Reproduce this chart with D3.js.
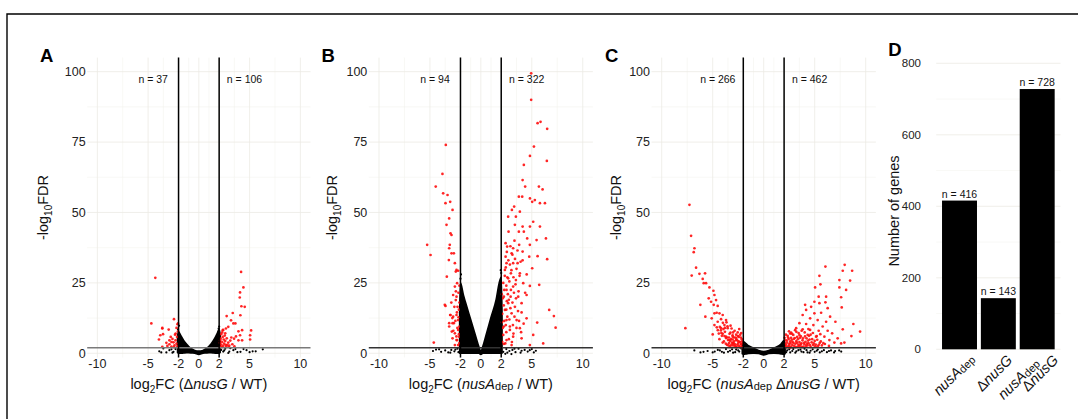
<!DOCTYPE html>
<html>
<head>
<meta charset="utf-8">
<script src="https://cdn.jsdelivr.net/npm/d3@7"></script>
<style>
  body { margin: 0; background: #fff; }
  svg { display: block; font-family: "Liberation Sans", Arial, sans-serif; }
</style>
</head>
<body>
<svg id="fig" width="1078" height="419"></svg>
<script>
// tick labels
const xTicks = [-10, -5, -2, 0, 2, 5, 10];
const xMinor = [-7.5, -3.5, -1, 1, 3.5, 7.5];
const yTicks = [0, 25, 50, 75, 100];
const yMinor = [12.5, 37.5, 62.5, 87.5];
const barTicks = [0, 200, 400, 600, 800];
const barMinor = [100, 300, 500, 700];

// gene counts per side (down, up)
const countsA = [37, 106];
const countsB = [94, 322];
const countsC = [266, 462];

// panel D
const barCategories = ["nusAdep", "dnusG", "both"];
const barValues = [416, 143, 728];

// dense non-significant core: [log2FC, low, high]
const coreA = [[-2.1,0.3,6.0],[-2.0,0,7.6],[-1.8,0,6.4],[-1.5,0.1,4.6],[-1.2,0.2,3.2],[-1.0,0.2,2.4],[-0.7,0.1,1.6],[-0.4,0,1.0],[0,-0.4,0.8],[0.4,0,1.0],[0.7,0.1,1.6],[1.0,0.2,2.5],[1.2,0.2,3.3],[1.5,0.1,4.9],[1.8,0,7.0],[2.0,0,8.6],[2.1,0.3,6.5]];
const coreB = [[-2.08,0,14],[-2.0,0,25],[-1.7,0,20.5],[-1.5,0,18],[-1.0,0,12],[-0.5,0,6],[-0.2,0,2.4],[0,-0.4,0.6],[0.2,0,2.5],[0.5,0,6.3],[1.0,0,12.8],[1.5,0,19],[1.8,0,25],[2.0,0,27],[2.08,0,14]];
const coreC = [[-2.1,-0.2,3.0],[-2.0,-0.3,4.2],[-1.7,-0.2,3.3],[-1.5,-0.1,2.7],[-1.0,0,1.8],[-0.5,-0.1,1.0],[0,-0.6,0.6],[0.5,-0.1,1.0],[1.0,0,1.8],[1.5,-0.1,2.7],[1.7,-0.2,3.3],[2.0,-0.3,4.5],[2.1,-0.2,3.0]];

// scattered non-significant genes
const blackA = [[-3.9,0.7],[-3.5,1.7],[-2.9,1.1],[-2.5,0.5],[-2.3,1.5],[-3.2,0.3],[2.4,0.6],[2.9,0.1],[3.4,1.1],[3.8,0.4],[4.1,0.5],[4.7,1.1],[5.3,0.7],[5.6,0.7],[6.3,1.4],[2.6,1.6],[3.1,1.8],[2.2,1.2],[4.4,1.5],[-2.05,8.5],[-1.95,9.8],[2.0,9.5],[1.95,8.8],[-2.6,0.2],[3.0,0.6],[-3.7,0.3],[-2.7,1.4],[2.5,1.0],[3.6,1.5],[5.0,0.4]];
const blackB = [[-4.7,0.8],[-4.4,1.3],[-3.9,0.5],[-3.5,1.0],[-3.2,0.3],[-2.9,1.2],[-2.6,0.7],[-2.3,1.6],[-2.2,0.4],[2.2,0.5],[2.5,1.5],[2.8,0.8],[3.1,1.2],[3.4,0.4],[3.7,1.6],[4.0,0.9],[4.3,1.2],[4.6,0.6],[5.0,1.5],[5.4,0.9],[3.0,-0.3],[2.4,-0.2],[-2.0,26.5],[-1.95,28],[2.0,28.5],[1.95,29.5],[-4.1,1.4],[-3.0,0.2],[-2.5,1.3],[2.6,0.2],[3.3,1.6],[3.9,0.2],[4.8,1.1],[5.2,0.3]];
const blackC = [[-5.5,0.8],[-5.0,0.3],[-4.5,1.2],[-4.1,0.5],[-3.7,1.5],[-3.3,0.9],[-3.0,0.2],[-2.7,1.3],[-2.4,0.6],[-2.2,1.7],[2.2,0.4],[2.5,1.4],[2.8,0.8],[3.1,0.2],[3.4,1.1],[3.7,0.6],[4.0,1.6],[4.3,0.3],[4.6,0.9],[5.0,0.5],[5.3,1.3],[5.7,0.7],[6.2,0.4],[6.6,1.0],[7.0,0.8],[7.6,0.6],[-6.8,1.0],[-5.9,0.5],
[-6.2,0.3],[-4.8,0.6],[-4.3,1.0],[-3.9,0.2],[-3.5,0.5],[-3.1,1.4],[-2.8,0.4],[-2.5,1.0],[2.3,1.0],[2.6,0.3],[2.9,1.5],[3.2,0.7],[3.6,1.3],[3.9,0.4],[4.2,1.1],[4.5,0.2],[4.8,1.4],[5.2,0.9],[5.5,0.3],[5.9,1.1],[6.4,0.8],[6.9,0.3],[7.4,1.0]];

// significant genes (red)
const redA = [[-4.29,26.8],[-4.68,10.6],[-2.45,12.1],[-3.6,9.0],[-2.97,8.4],[-2.1,10.3],[-2.28,7.0],[-3.53,6.8],[-3.93,4.9],[-2.77,5.8],[-2.7,4.0],[-3.2,3.7],[-3.6,2.3],[-2.05,10.6],[-3.8,6.4],[-2.9,4.6],[-3.6,8.8],
[-2.1,2.5],[-2.2,3.4],[-2.3,4.6],[-2.15,5.8],[-2.4,2.8],[-2.5,3.9],[-2.6,5.1],[-2.35,6.6],[-2.7,2.4],[-2.05,7.8],[-2.2,9.0],[-2.45,2.2],[-2.9,3.2],[-3.1,2.6],
[4.16,28.9],[4.39,23.4],[4.06,21.6],[4.03,19.8],[4.19,16.7],[4.52,16.5],[3.34,14.3],[4.09,13.5],[2.74,13.2],[3.17,11.7],[3.4,10.6],[3.6,10.6],[2.9,9.4],[2.67,8.8],[3.9,7.8],[5.15,8.1],[2.35,8.2],[4.26,8.2],[4.06,6.4],[5.05,6.4],[3.66,6.0],[3.47,5.2],[3.9,4.6],[4.26,4.6],[5.05,4.9],
[2.1,2.3],[2.2,3.1],[2.3,4.0],[2.15,5.2],[2.4,2.6],[2.5,3.4],[2.6,4.4],[2.35,5.8],[2.7,2.4],[2.8,3.0],[2.9,3.8],[3.0,2.7],[2.55,6.3],[2.2,6.8],[3.1,4.5],[3.3,3.2],[2.05,3.7],[2.25,2.2],[2.45,4.9],[2.75,5.3],[3.5,2.5],[2.65,2.9],[2.95,2.3],[3.2,5.6],[2.1,4.6],[2.3,7.4],[2.4,8.3],[2.6,7.1]];

const redB = [[-5.27,38.5],[-4.94,34.9],[-3.44,74.0],[-3.77,63.7],[-4.43,59.2],[-3.70,56.8],[-3.27,56.2],[-3.01,53.8],[-3.47,53.3],[-2.78,50.9],[-3.11,47.9],[-3.37,45.6],[-2.98,42.6],[-2.88,42.0],[-3.05,38.5],[-3.11,37.3],[-2.65,35.5],[-2.88,35.5],[-3.14,33.1],[-3.34,27.2],[-2.39,29.6],[-2.23,29.3],[-2.33,24.9],[-2.55,23.7],[-2.72,20.7],[-2.39,20.1],[-2.46,18.9],[-2.29,16.5],[-3.47,16.8],[-3.01,13.6],[-2.72,13.0],[-2.39,13.6],[-3.11,10.7],[-2.65,10.7],[-2.23,11.8],[-2.85,7.7],[-2.55,7.1],[-2.23,8.3],[-2.78,5.3],[-2.39,4.7],[-2.13,5.9],[-4.62,3.8],[-2.55,2.9],[-2.23,2.9],
[-2.55,32.0],[-2.46,29.0],[-3.54,17.2],[-2.98,13.6],[-2.78,10.7],[-3.11,9.5],[-2.33,4.7],
[-2.1,3.6],[-2.15,6.8],[-2.1,9.5],[-2.2,12.8],[-2.15,15.5],[-2.1,18.0],[-2.2,21.5],[-2.1,24.0],[-2.3,9.0],[-2.4,6.0],[-2.5,11.5],[-2.35,14.5],[-2.6,16.5],[-2.45,22.0],[-2.7,8.0],[-2.8,12.5],[-2.9,18.0],
[4.94,99.4],[4.94,90.0],[5.57,81.7],[5.86,82.2],[6.51,79.7],[5.21,73.4],[4.82,70.1],[6.48,68.3],[4.22,66.9],[4.10,61.5],[4.35,59.2],[5.70,59.2],[6.06,58.2],[3.73,55.6],[4.06,55.6],[4.82,55.0],[5.04,53.8],[5.30,54.4],[5.80,53.3],[6.29,53.3],[3.27,52.1],[3.05,50.9],[2.68,48.5],[3.44,48.5],[3.83,50.3],[3.34,45.6],[4.10,45.0],[4.82,45.0],[5.14,46.7],[5.80,45.0],[2.72,43.2],[3.73,43.2],[4.22,43.2],[4.55,40.8],[6.39,40.8],[2.43,39.1],[2.58,37.9],[3.17,37.3],[3.76,38.5],[4.81,38.5],[5.47,40.2],[2.43,34.3],[3.02,35.5],[4.10,36.1],[4.75,34.3],[5.57,34.5],[6.51,33.4],[2.52,32.0],[3.17,32.0],[3.61,32.0],[5.04,30.2],[2.36,29.6],[2.95,28.4],[3.83,28.4],[2.68,26.6],[3.44,26.0],[4.16,24.9],[3.17,23.7],[2.52,22.5],[5.73,24.3],[4.81,23.9],[2.26,20.1],[2.92,20.1],[3.67,20.1],[4.49,20.7],[2.68,17.8],[3.34,16.5],[4.00,17.8],[2.36,15.4],[3.02,14.2],[6.71,15.4],[7.17,13.2],[2.52,11.8],[3.51,11.8],[4.49,12.4],[5.53,10.9],[7.34,9.1],[2.26,9.5],[2.85,8.3],[3.83,8.9],[3.17,5.9],[2.52,4.7],[4.00,5.3],[5.14,6.5],[2.26,3.3],[3.02,2.9],[4.81,2.9],[6.12,3.5],
[2.1,4.0],[2.2,6.5],[2.15,9.0],[2.3,11.5],[2.1,14.0],[2.25,17.0],[2.15,19.5],[2.3,22.5],[2.2,25.0],[2.35,27.5],[2.4,3.5],[2.5,7.5],[2.45,10.0],[2.6,13.0],[2.5,15.5],[2.55,18.5],[2.65,21.0],[2.5,24.0],[2.6,27.0],[2.45,30.5],[2.7,33.0],[2.55,36.0],[2.75,5.0],[2.85,9.5],[2.8,12.0],[2.9,16.0],[2.75,19.0],[2.95,22.5],[2.8,25.5],[3.0,29.5],[2.85,31.5],[3.1,35.0],[2.9,38.0],[3.05,4.0],[3.2,7.0],[3.15,10.0],[3.3,13.0],[3.1,18.0],[3.25,21.5],[3.4,24.5],[3.2,27.0],[3.5,30.0],[3.35,33.5],[3.6,36.5],[3.3,40.0],[3.5,9.0],[3.65,15.0],[3.45,19.5],[3.7,22.0],[3.8,27.5],[3.9,32.5],[3.75,11.5],[4.0,14.5],[3.95,7.5],[4.2,10.5],[4.35,21.5],[4.5,28.0],[4.1,33.0],[2.05,21.0],[2.05,11.0]];

const redC = [[-7.28,52.7],[-7.12,41.7],[-6.79,37.3],[-6.86,35.9],[-6.63,30.4],[-7.06,27.6],[-6.30,28.2],[-5.75,28.4],[-5.98,26.4],[-5.65,24.9],[-5.88,24.9],[-5.32,23.4],[-4.93,22.2],[-4.83,20.7],[-5.39,19.5],[-5.16,18.3],[-4.67,18.9],[-6.21,17.2],[-4.90,17.2],[-4.51,16.8],[-4.61,14.4],[-4.34,14.2],[-4.83,14.2],[-4.02,13.6],[-5.72,13.0],[-5.10,12.4],[-4.18,12.1],[-3.69,11.8],[-4.51,11.2],[-4.83,10.0],[-3.85,10.0],[-4.18,8.9],[-3.53,8.9],[-7.68,8.9],[-3.26,7.3],[-5.00,6.7],[-4.02,6.9],[-3.69,5.9],[-3.04,5.9],[-4.34,5.0],[-3.36,4.7],[-2.71,4.7],[-2.38,4.1],[-4.02,3.8],[-3.04,3.5],[-2.22,3.3],
[-2.1,2.3],[-2.2,3.1],[-2.3,4.0],[-2.15,5.0],[-2.4,2.6],[-2.5,3.5],[-2.6,4.6],[-2.45,5.8],[-2.7,2.3],[-2.8,3.2],[-2.9,4.2],[-2.75,5.6],[-3.0,2.8],[-3.1,3.8],[-3.2,5.0],[-3.05,6.4],[-3.3,2.5],[-3.4,3.6],[-3.5,4.7],[-3.35,6.9],[-3.6,3.0],[-3.7,5.4],[-3.8,7.6],[-3.9,4.2],[-4.1,6.2],[-4.2,8.1],[-4.4,7.0],[-4.6,9.2],[-2.3,6.6],[-2.55,7.4],[-2.85,8.0],[-3.15,8.8],[-3.55,9.6],[-4.0,10.8],[-2.05,3.6],[-2.65,2.1],
[-2.12,4.2],[-2.25,5.6],[-2.35,2.2],[-2.48,4.2],[-2.58,3.0],[-2.68,5.2],[-2.82,2.6],[-2.95,3.6],[-3.05,4.9],[-3.18,2.9],[-3.28,4.4],[-3.45,2.8],[-3.58,5.6],[-3.72,3.4],[-3.85,6.1],[-3.95,8.6],[-4.15,7.2],[-4.3,9.4],[-4.5,8.2],[-2.2,7.2],[-2.4,8.6],[-2.7,6.6],[-3.0,7.4],[-3.25,9.8],[-3.65,11.0],[-2.15,2.1],[-2.52,6.1],[-2.92,5.6],[-3.4,5.6],[-3.8,9.0],
[7.94,31.4],[8.67,29.3],[6.05,30.8],[7.75,29.3],[5.46,27.5],[7.42,26.0],[8.47,25.8],[5.04,23.4],[5.56,24.5],[7.42,23.4],[8.08,22.5],[7.59,19.9],[6.12,20.1],[5.39,20.1],[4.97,18.3],[5.46,17.8],[6.05,18.1],[6.27,16.0],[4.06,17.2],[4.65,16.5],[7.65,16.3],[4.16,15.4],[4.97,14.2],[5.63,14.4],[6.51,13.0],[3.82,13.6],[4.55,12.4],[5.29,11.8],[6.12,11.2],[7.03,11.2],[3.50,10.7],[4.16,10.4],[4.87,10.0],[5.78,9.5],[8.79,10.4],[3.18,8.9],[3.82,8.5],[4.55,8.3],[5.39,8.0],[6.27,8.0],[7.75,8.5],[6.71,7.1],[9.45,7.7],[2.69,7.3],[3.50,6.5],[4.31,6.5],[5.14,5.9],[5.95,5.9],[8.60,6.1],[7.25,5.3],[6.44,4.7],[6.93,3.8],[7.59,3.5],[7.91,3.8],
[2.1,2.3],[2.2,3.0],[2.3,3.8],[2.15,4.6],[2.4,2.5],[2.5,3.3],[2.6,4.2],[2.45,5.1],[2.7,2.2],[2.8,2.9],[2.9,3.7],[2.75,4.8],[3.0,2.6],[3.1,3.4],[3.2,4.3],[3.05,5.4],[3.3,2.3],[3.4,3.1],[3.5,4.0],[3.35,5.0],[3.6,2.7],[3.7,3.5],[3.8,4.6],[3.65,6.0],[3.9,2.4],[4.0,3.2],[4.1,4.1],[4.2,5.3],[4.3,2.8],[4.4,3.6],[4.5,4.9],[4.6,2.3],[4.7,3.9],[4.85,2.9],[5.0,4.4],[5.1,3.1],[5.3,2.5],[5.5,3.7],[5.7,2.8],[6.0,3.3],[2.35,6.2],[2.6,7.0],[2.9,6.5],[3.2,7.6],[2.05,5.5],[2.25,2.1],[4.6,6.6],[5.2,6.1],[6.4,2.6],[2.55,2.0],
[2.12,3.4],[2.28,4.5],[2.38,5.6],[2.52,2.7],[2.62,3.6],[2.68,5.5],[2.82,4.1],[2.95,5.1],[3.12,2.2],[3.25,3.7],[3.28,5.8],[3.45,2.6],[3.55,5.5],[3.62,3.3],[3.75,2.2],[3.85,5.3],[3.95,3.7],[4.05,6.0],[4.15,2.6],[4.25,3.4],[4.35,4.5],[4.45,6.2],[4.55,2.9],[4.75,5.0],[4.9,3.5],[5.05,2.5],[5.25,4.8],[5.4,3.0],[5.6,4.2],[5.85,3.6],[2.18,6.6],[2.48,7.8],[2.78,6.9],[3.08,8.2],[3.42,7.2],[3.72,8.0],[4.02,7.4],[4.38,8.6],[4.82,7.2],[5.55,6.8]];

const fdrCut = 2;
const fcCut = 2;

const svg = d3.select("#fig");
svg.append("rect").attr("width", 1078).attr("height", 419).attr("fill", "#fff");

// partial frame
svg.append("path").attr("d", "M7,419 V14 H1078")
  .attr("fill", "none").attr("stroke", "#000").attr("stroke-width", 1.4);

const gridMajor = "#ecebe4", gridMinor = "#f4f3ee";
const y = d3.scaleLinear().domain([-1.5, 105]).range([357.5, 57.6]);

// x title pieces: [text, style]
const titles = {
  A: [["Δ", ""], ["nusG", "i"]],
  B: [["nusA", "i"], ["dep", "s"]],
  C: [["nusA", "i"], ["dep", "s"], [" Δ", ""], ["nusG", "i"]]
};

const panels = [
  { id: "A", x0: 87.2, x1: 310.5, red: redA, black: blackA, core: coreA, counts: countsA, yTitle: 48.3, hline: "#7a7a7a", letter: 40 },
  { id: "B", x0: 368.8, x1: 592.9, red: redB, black: blackB, core: coreB, counts: countsB, yTitle: 336.7, hline: "#333", letter: 321.5 },
  { id: "C", x0: 651.5, x1: 875.9, red: redC, black: blackC, core: coreC, counts: countsC, yTitle: 620.7, hline: "#333", letter: 605 }
];

function addRich(sel, pieces) {
  let lowered = false;
  pieces.forEach(([t, s]) => {
    const ts = sel.append("tspan").text(t);
    if (lowered) { ts.attr("dy", -1); lowered = false; }
    if (s === "i") ts.attr("font-style", "italic");
    if (s === "s") { ts.attr("font-size", "11px").attr("dy", 1); lowered = true; }
  });
  return lowered;
}

panels.forEach(p => {
  const x = d3.scaleLinear().domain([-11, 11]).range([p.x0, p.x1]);
  const g = svg.append("g");

  // grid
  g.selectAll(".vmin").data(xMinor).join("line")
    .attr("x1", d => x(d)).attr("x2", d => x(d)).attr("y1", y(105)).attr("y2", y(-1.5))
    .attr("stroke", gridMinor).attr("stroke-width", 0.6);
  g.selectAll(".hmin").data(yMinor).join("line")
    .attr("x1", p.x0).attr("x2", p.x1).attr("y1", d => y(d)).attr("y2", d => y(d))
    .attr("stroke", gridMinor).attr("stroke-width", 0.6);
  g.selectAll(".vmaj").data(xTicks).join("line")
    .attr("x1", d => x(d)).attr("x2", d => x(d)).attr("y1", y(105)).attr("y2", y(-1.5))
    .attr("stroke", gridMajor).attr("stroke-width", 0.8);
  g.selectAll(".hmaj").data(yTicks).join("line")
    .attr("x1", p.x0).attr("x2", p.x1).attr("y1", d => y(d)).attr("y2", d => y(d))
    .attr("stroke", gridMajor).attr("stroke-width", 0.8);

  // dense core of non-significant genes
  const area = d3.area().x(d => x(d[0])).y0(d => y(d[1])).y1(d => y(d[2])).curve(d3.curveMonotoneX);
  g.append("path").datum(p.core).attr("d", area)
    .attr("fill", "#000").attr("stroke", "#000").attr("stroke-width", 1.6).attr("stroke-linejoin", "round");

  g.selectAll(".bk").data(p.black).join("circle")
    .attr("cx", d => x(d[0])).attr("cy", d => y(d[1])).attr("r", 1.1).attr("fill", "#000");
  g.selectAll(".rd").data(p.red).join("circle")
    .attr("cx", d => x(d[0])).attr("cy", d => y(d[1])).attr("r", 1.35).attr("fill", "#ff0d0d").attr("opacity", 0.9);

  // threshold lines
  g.append("line").attr("x1", p.x0).attr("x2", p.x1).attr("y1", y(fdrCut)).attr("y2", y(fdrCut))
    .attr("stroke", p.hline).attr("stroke-width", 1.5);
  g.selectAll(".vl").data([-fcCut, fcCut]).join("line")
    .attr("x1", d => x(d)).attr("x2", d => x(d)).attr("y1", y(105)).attr("y2", y(-1.5))
    .attr("stroke", "#000").attr("stroke-width", 1.5);

  // n labels
  g.selectAll(".nl").data(p.counts).join("text")
    .attr("x", (d, i) => x(i ? 4.5 : -4.5)).attr("y", y(97.3) + 3.5)
    .attr("text-anchor", "middle").attr("font-size", "10.5px").attr("fill", "#111")
    .text(d => "n = " + d);

  // tick labels
  g.selectAll(".xt").data(xTicks).join("text")
    .attr("x", d => x(d)).attr("y", 367.5).attr("text-anchor", "middle")
    .attr("font-size", "12.5px").attr("fill", "#222").text(d => d);
  g.selectAll(".yt").data(yTicks).join("text")
    .attr("x", p.x0 - 1.5).attr("y", d => y(d) + 4.3).attr("text-anchor", "end")
    .attr("font-size", "12.5px").attr("fill", "#222").text(d => d);

  // x title
  const xt = g.append("text").attr("x", x(0)).attr("y", 388.5).attr("text-anchor", "middle")
    .attr("font-size", "14.5px").attr("fill", "#111");
  xt.append("tspan").text("log");
  xt.append("tspan").attr("font-size", "10px").attr("dy", 4).text("2");
  xt.append("tspan").attr("dy", -4).text("FC (");
  const low = addRich(xt, titles[p.id]);
  xt.append("tspan").attr("dy", low ? -1 : 0).text(" / WT)");

  // y title
  const yt = g.append("text").attr("transform", `translate(${p.yTitle},207.5) rotate(-90)`)
    .attr("text-anchor", "middle").attr("font-size", "14.5px").attr("fill", "#111");
  yt.append("tspan").text("-log");
  yt.append("tspan").attr("font-size", "10px").attr("dy", 4).text("10");
  yt.append("tspan").attr("dy", -4).text("FDR");

  // panel letter
  g.append("text").attr("x", p.letter).attr("y", 61.7).attr("font-size", "18.5px")
    .attr("font-weight", "bold").text(p.id);
});

// ---- panel D: bar chart
const yb = d3.scaleLinear().domain([0, 800]).range([349.3, 63.3]);
const xb = d3.scaleBand().domain(barCategories).range([936.2, 1060.5]).paddingInner(0.1).paddingOuter(0.15);
const gd = svg.append("g");

gd.selectAll(".bmin").data(barMinor).join("line")
  .attr("x1", 936.2).attr("x2", 1060.5).attr("y1", d => yb(d)).attr("y2", d => yb(d))
  .attr("stroke", gridMinor).attr("stroke-width", 0.6);
gd.selectAll(".bmaj").data(barTicks).join("line")
  .attr("x1", 936.2).attr("x2", 1060.5).attr("y1", d => yb(d)).attr("y2", d => yb(d))
  .attr("stroke", gridMajor).attr("stroke-width", 0.8);

gd.selectAll(".bar").data(barCategories).join("rect")
  .attr("x", d => xb(d)).attr("width", xb.bandwidth())
  .attr("y", (d, i) => yb(barValues[i])).attr("height", (d, i) => yb(0) - yb(barValues[i]))
  .attr("fill", "#000");

gd.selectAll(".bl").data(barCategories).join("text")
  .attr("x", d => xb(d) + xb.bandwidth() / 2).attr("y", (d, i) => yb(barValues[i]) - 3)
  .attr("text-anchor", "middle").attr("font-size", "10.5px").attr("fill", "#111")
  .text((d, i) => "n = " + barValues[i]);

gd.selectAll(".byt").data(barTicks).join("text")
  .attr("x", 921).attr("y", d => yb(d) + 4).attr("text-anchor", "end")
  .attr("font-size", "11.5px").attr("fill", "#222").text(d => d);

gd.append("text").attr("transform", "translate(899,211) rotate(-90)")
  .attr("text-anchor", "middle").attr("font-size", "14.5px").attr("fill", "#111")
  .text("Number of genes");

// rotated category labels: lines, each with its end offset [dx, dy] from the bar centre
const catLines = {
  nusAdep: [{ off: [16, 360], parts: [["nusA", "i"], ["dep", "s"]] }],
  dnusG: [{ off: [15, 361], parts: [["Δ", ""], ["nusG", "i"]] }],
  both: [{ off: [3, 364], parts: [["nusA", "i"], ["dep", "s"]] },
         { off: [22, 361], parts: [["Δ", ""], ["nusG", "i"]] }]
};
barCategories.forEach(c => {
  const cx = xb(c) + xb.bandwidth() / 2;
  catLines[c].forEach(ln => {
    const t = gd.append("text")
      .attr("transform", `translate(${cx + ln.off[0]},${ln.off[1]}) rotate(-45)`)
      .attr("text-anchor", "end").attr("font-size", "14.5px").attr("fill", "#111");
    ln.parts.forEach(([tx, s]) => {
      const sp = t.append("tspan").text(tx);
      if (s === "i") sp.attr("font-style", "italic");
      if (s === "s") sp.attr("font-size", "11px").attr("dy", 1);
    });
  });
});

gd.append("text").attr("x", 888.3).attr("y", 56).attr("font-size", "18.5px")
  .attr("font-weight", "bold").text("D");
</script>
</body>
</html>
